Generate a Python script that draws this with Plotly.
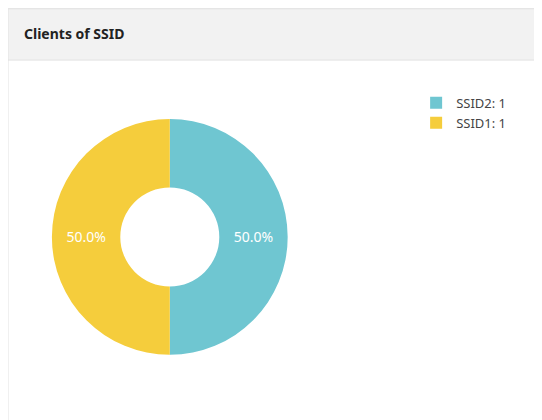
import plotly.graph_objects as go

labels = ["SSID2", "SSID1"]
values = [1, 1]
colors = ["#6fc6d1", "#f5cd3c"]
legend_names = [f"{l}: {v}" for l, v in zip(labels, values)]

fig = go.Figure(go.Pie(
    labels=legend_names, values=values, sort=False, direction="clockwise",
    hole=0.42, marker=dict(colors=colors, line=dict(width=0)),
    texttemplate="%{percent:.1%}", textposition="inside",
    insidetextfont=dict(color="white", size=14, family="Noto Sans"),
    insidetextorientation="horizontal",
    domain=dict(x=[0.081, 0.516], y=[0.174, 0.736]),
    hoverinfo="label+percent",
))

fig.update_layout(
    width=542, height=420, margin=dict(l=0, r=0, t=0, b=0),
    paper_bgcolor="white",
    showlegend=True,
    legend=dict(x=0.753, y=0.81, xanchor="left", yanchor="top",
                font=dict(size=13, family="Noto Sans", color="#444")),
    shapes=[
        dict(type="rect", xref="paper", yref="paper", x0=0.0, x1=1.01, y0=-0.01, y1=0.998,
             line=dict(color="#e2e2e2", width=1), fillcolor="white", layer="below"),
        dict(type="rect", xref="paper", yref="paper", x0=0.0, x1=1.01, y0=0.876, y1=0.998,
             line=dict(color="#e2e2e2", width=1), fillcolor="#f2f2f2", layer="below"),
    ],
    annotations=[dict(text="<b>Clients of SSID</b>", xref="paper", yref="paper",
                      x=0.025, y=0.939, xanchor="left", yanchor="middle", showarrow=False,
                      font=dict(size=14, family="Noto Sans", color="#222"))],
)

fig.write_html("out.html")
